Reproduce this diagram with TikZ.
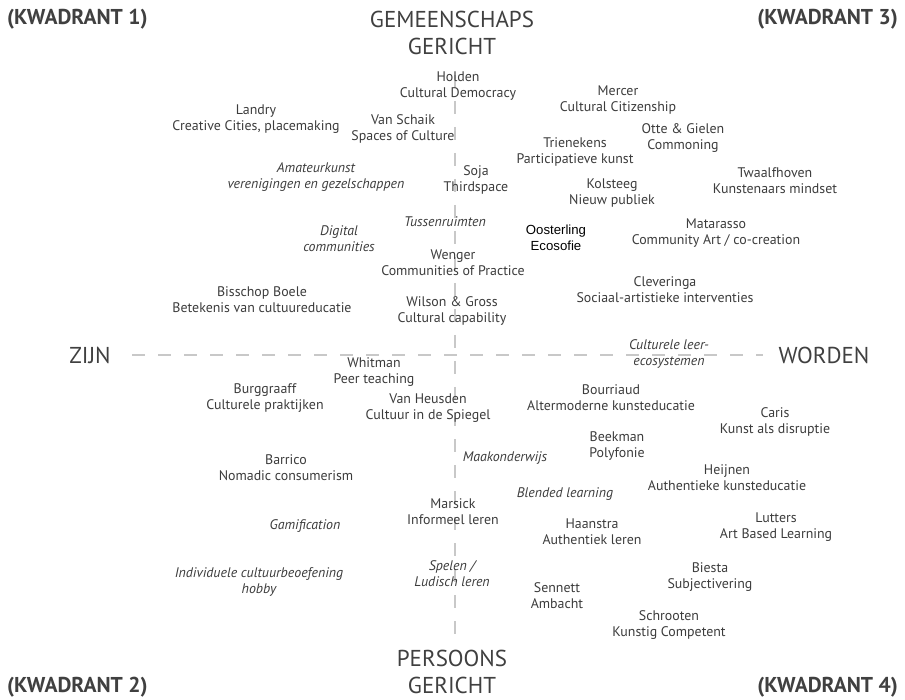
\documentclass[tikz,border=0pt]{standalone}
\usepackage{fontspec}
\setmainfont{PT Sans}
\newfontfamily\arialf{Liberation Sans}
\definecolor{txt}{HTML}{3C3C3C}
\definecolor{axis}{HTML}{C8C8C8}
\definecolor{head}{HTML}{404040}
\begin{document}
\begin{tikzpicture}[x=1pt,y=-1pt,
  ref/.style={align=center,inner sep=0pt,text=txt,font=\fontsize{13.9}{16}\selectfont},
  con/.style={align=center,inner sep=0pt,text=txt,font=\fontsize{13.9}{16}\selectfont\itshape},
  oost/.style={align=center,inner sep=0pt,text=black,font=\arialf\fontsize{13.2}{16}\selectfont},
  axlabel/.style={align=center,inner sep=0pt,text=head,font=\fontsize{23}{27}\selectfont},
  quad/.style={inner sep=0pt,text=head,font=\fontsize{21.5}{24}\selectfont\bfseries},
  axline/.style={draw=axis,line width=1.2pt,dash pattern=on 13pt off 13pt}]
\fill[white] (0,0) rectangle (905,700);
\useasboundingbox (0,0) rectangle (905,700);
% axes
\coordinate (vtop) at (455,75);
\coordinate (vbot) at (455,645);
\coordinate (hl) at (132,355);
\coordinate (hr) at (763,355);
\draw[axline] (vtop) -- (vbot);
\draw[axline] (hl) -- (hr);
% axis labels
\node[axlabel] (gem) at (452,33) {GEMEENSCHAPS\\GERICHT};
\node[axlabel] (pers) at (452,672) {PERSOONS\\GERICHT};
\node[axlabel] (zijn) at (90,355) {ZIJN};
\node[axlabel] (worden) at (824,355) {WORDEN};
% quadrants
\node[quad,anchor=west] (k1) at (7,19) {(KWADRANT 1)};
\node[quad,anchor=east] (k3) at (898,19) {(KWADRANT 3)};
\node[quad,anchor=west] (k2) at (7,687) {(KWADRANT 2)};
\node[quad,anchor=east] (k4) at (898,687) {(KWADRANT 4)};
% top left
\node[ref] (holden) at (458,86) {Holden\\Cultural Democracy};
\node[ref] (landry) at (256,119) {Landry\\Creative Cities, placemaking};
\node[ref] (schaik) at (403,129) {Van Schaik\\Spaces of Culture};
\node[con] (amateur) at (316,177) {Amateurkunst\\verenigingen en gezelschappen};
\node[ref] (soja) at (476,180) {Soja\\Thirdspace};
\node[con] (tussen) at (445,222) {Tussenruimten};
\node[con] (digital) at (339,239) {Digital\\communities};
\node[ref] (wenger) at (453,263) {Wenger\\Communities of Practice};
\node[ref] (bisschop) at (262,300) {Bisschop Boele\\Betekenis van cultuureducatie};
\node[ref] (wilson) at (452,311) {Wilson \& Gross\\Cultural capability};
% top right
\node[ref] (mercer) at (618,100) {Mercer\\Cultural Citizenship};
\node[ref] (otte) at (683,138) {Otte \& Gielen\\Commoning};
\node[ref] (trienekens) at (575,152) {Trienekens\\Participatieve kunst};
\node[ref] (twaalf) at (775,181) {Twaalfhoven\\Kunstenaars mindset};
\node[ref] (kolsteeg) at (612,193) {Kolsteeg\\Nieuw publiek};
\node[oost] (oosterling) at (556,238) {Oosterling\\Ecosofie};
\node[ref] (matarasso) at (716,233) {Matarasso\\Community Art / co-creation};
\node[ref] (cleveringa) at (665,290) {Cleveringa\\Sociaal-artistieke interventies};
\node[con] (leer) at (669,354) {Culturele leer-\\ecosystemen};
% bottom left
\node[ref] (whitman) at (374,372) {Whitman\\Peer teaching};
\node[ref] (burggraaff) at (265,398) {Burggraaff\\Culturele praktijken};
\node[ref] (heusden) at (428,408) {Van Heusden\\Cultuur in de Spiegel};
\node[ref] (barrico) at (286,468) {Barrico\\Nomadic consumerism};
\node[con] (maak) at (505,458) {Maakonderwijs};
\node[ref] (marsick) at (453,512) {Marsick\\Informeel leren};
\node[con] (blended) at (565,494) {Blended learning};
\node[con] (gamif) at (305,526) {Gamification};
\node[con] (spelen) at (452,574) {Spelen /\\Ludisch leren};
\node[con] (indiv) at (259,582) {Individuele cultuurbeoefening\\hobby};
% bottom right
\node[ref] (bourriaud) at (611,398) {Bourriaud\\Altermoderne kunsteducatie};
\node[ref] (caris) at (775,422) {Caris\\Kunst als disruptie};
\node[ref] (beekman) at (617,446) {Beekman\\Polyfonie};
\node[ref] (heijnen) at (727,478) {Heijnen\\Authentieke kunsteducatie};
\node[ref] (lutters) at (776,527) {Lutters\\Art Based Learning};
\node[ref] (haanstra) at (592,532) {Haanstra\\Authentiek leren};
\node[ref] (biesta) at (710,577) {Biesta\\Subjectivering};
\node[ref] (sennett) at (557,596) {Sennett\\Ambacht};
\node[ref] (schrooten) at (669,625) {Schrooten\\Kunstig Competent};
\end{tikzpicture}
\end{document}
